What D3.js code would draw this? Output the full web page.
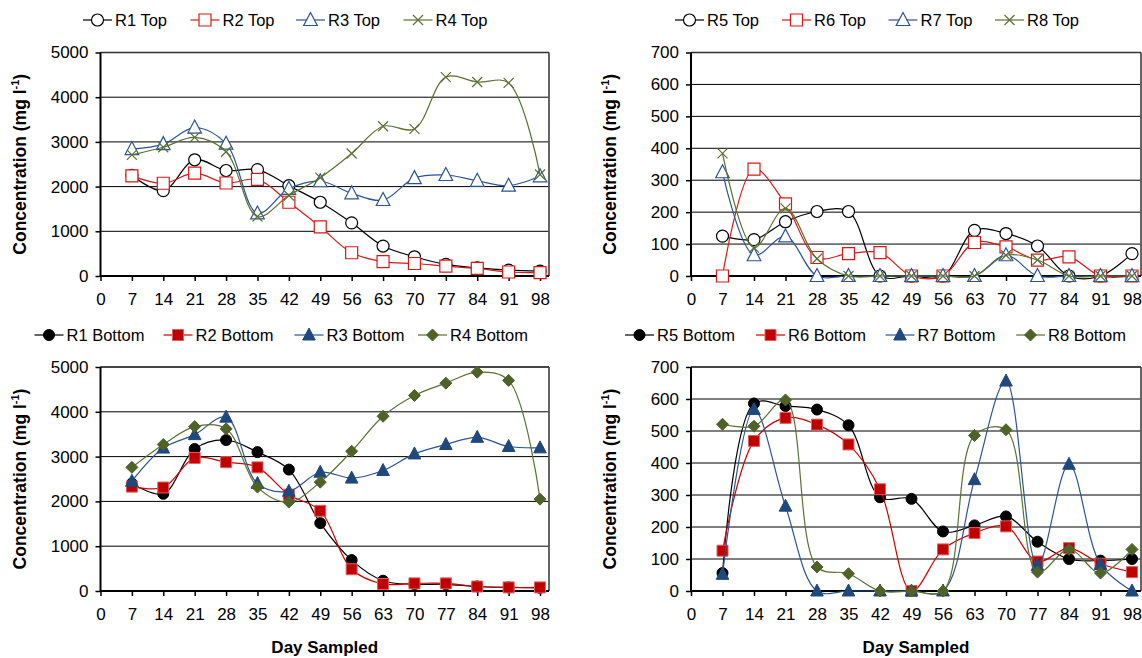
<!DOCTYPE html>
<html>
<head>
<meta charset="utf-8">
<script src="https://d3js.org/d3.v7.min.js"></script>
<style>
  body { margin: 0; background: #fff; }
  text { font-family: Arial, "Liberation Sans", sans-serif; }
</style>
</head>
<body>
<svg id="chart" width="1142" height="658"></svg>
<script>
// sampling days (category values) and x tick labels
var days = [7, 14, 21, 28, 35, 42, 49, 56, 63, 70, 77, 84, 91, 98];
var xTicks = [0, 7, 14, 21, 28, 35, 42, 49, 56, 63, 70, 77, 84, 91, 98];
var yTicksBig = [0, 1000, 2000, 3000, 4000, 5000];
var yTicksSmall = [0, 100, 200, 300, 400, 500, 600, 700];

// top samples
var r1Top = [2250, 1910, 2600, 2360, 2380, 2020, 1650, 1190, 670, 430, 260, 180, 130, 110];
var r2Top = [2240, 2075, 2300, 2080, 2160, 1650, 1100, 520, 320, 280, 220, 170, 90, 75];
var r3Top = [2840, 2950, 3320, 2960, 1400, 1950, 2120, 1850, 1700, 2190, 2260, 2130, 2020, 2230];
var r4Top = [2710, 2880, 3100, 2780, 1330, 1800, 2200, 2740, 3350, 3290, 4450, 4340, 4320, 2270];
var r5Top = [125, 114, 170, 202, 202, 0, 0, 0, 143, 133, 94, 0, 0, 70];
var r6Top = [0, 335, 226, 58, 70, 73, 0, 0, 105, 91, 50, 60, 0, 0];
var r7Top = [325, 65, 124, 0, 0, 0, 0, 0, 0, 65, 0, 0, 0, 0];
var r8Top = [384, 89, 212, 54, 0, 0, 0, 0, 0, 65, 50, 0, 0, 0];

// bottom samples
var r1Bot = [2400, 2170, 3170, 3370, 3100, 2710, 1515, 690, 230, 150, 150, 100, 80, 70];
var r2Bot = [2330, 2310, 2970, 2875, 2760, 2150, 1790, 485, 157, 170, 170, 100, 80, 80];
var r3Bot = [2450, 3190, 3490, 3880, 2400, 2225, 2650, 2520, 2690, 3060, 3270, 3430, 3225, 3195];
var r4Bot = [2760, 3270, 3670, 3620, 2320, 1985, 2430, 3120, 3900, 4365, 4640, 4885, 4700, 2050];
var r5Bot = [56, 586, 578, 567, 518, 293, 288, 186, 205, 233, 154, 100, 95, 100];
var r6Bot = [126, 469, 541, 520, 458, 318, 0, 130, 181, 202, 92, 134, 85, 59];
var r7Bot = [52, 567, 265, 0, 0, 0, 0, 0, 348, 656, 80, 396, 83, 0];
var r8Bot = [521, 515, 597, 75, 54, 0, 0, 0, 486, 504, 59, 130, 56, 130];

var BLACK = "#000000", RED = "#d81818", BLUE = "#2a5592", OLIVE = "#5b7032";

// marker styles
var styles = {
  openCircle:   {shape: "circle",   color: BLACK, fill: "#fff"},
  openSquare:   {shape: "square",   color: RED,   fill: "#fff"},
  openTriangle: {shape: "triangle", color: BLUE,  fill: "#fff"},
  cross:        {shape: "x",        color: OLIVE, fill: "none"},
  dot:          {shape: "circle",   color: BLACK, fill: BLACK},
  block:        {shape: "square",   color: "#e06060", fill: "#c00000", line: "#d00000"},
  tri:          {shape: "triangle", color: "#1f497d", fill: "#1f497d", line: BLUE},
  diamond:      {shape: "diamond",  color: "#4f6228", fill: "#4f6228", line: OLIVE}
};

var panels = [
  {left: 100.5, right: 549, top: 52.5, bottom: 276, max: 5000, ticks: yTicksBig, legendY: 20,
   legendX: [83, 190.5, 296, 403.5], xTitle: false, yTitleX: 20,
   series: [["R1 Top", r1Top, "openCircle"], ["R2 Top", r2Top, "openSquare"],
            ["R3 Top", r3Top, "openTriangle"], ["R4 Top", r4Top, "cross"]]},
  {left: 691, right: 1141, top: 52.5, bottom: 276, max: 700, ticks: yTicksSmall, legendY: 20,
   legendX: [675, 782, 888.5, 995], xTitle: false, yTitleX: 610,
   series: [["R5 Top", r5Top, "openCircle"], ["R6 Top", r6Top, "openSquare"],
            ["R7 Top", r7Top, "openTriangle"], ["R8 Top", r8Top, "cross"]]},
  {left: 100.5, right: 549, top: 367, bottom: 591, max: 5000, ticks: yTicksBig, legendY: 335,
   legendX: [34.5, 163.5, 294.5, 418], xTitle: true, yTitleX: 20,
   series: [["R1 Bottom", r1Bot, "dot"], ["R2 Bottom", r2Bot, "block"],
            ["R3 Bottom", r3Bot, "tri"], ["R4 Bottom", r4Bot, "diamond"]]},
  {left: 691, right: 1141, top: 367, bottom: 591, max: 700, ticks: yTicksSmall, legendY: 335,
   legendX: [625, 756, 885.5, 1016], xTitle: true, yTitleX: 610,
   series: [["R5 Bottom", r5Bot, "dot"], ["R6 Bottom", r6Bot, "block"],
            ["R7 Bottom", r7Bot, "tri"], ["R8 Bottom", r8Bot, "diamond"]]}
];

function markerPath(shape, filled) {
  var s = filled ? 5.5 : 6;
  if (shape === "circle") return d3.symbol(d3.symbolCircle, Math.PI * s * s)();
  if (shape === "square") return "M" + (-s) + "," + (-s) + "H" + s + "V" + s + "H" + (-s) + "Z";
  if (shape === "triangle") return "M0," + (-s - 1.5) + "L" + (s + 0.8) + "," + (s - 0.5) + "L" + (-s - 0.8) + "," + (s - 0.5) + "Z";
  if (shape === "diamond") return "M0," + (-s - 0.5) + "L" + (s + 0.5) + ",0L0," + (s + 0.5) + "L" + (-s - 0.5) + ",0Z";
  var t = 5;
  return "M" + (-t) + "," + (-t) + "L" + t + "," + t + "M" + (-t) + "," + t + "L" + t + "," + (-t);
}

function drawMarker(g, st, x, y) {
  var filled = st.fill !== "#fff" && st.fill !== "none";
  g.append("path")
    .attr("d", markerPath(st.shape, filled))
    .attr("transform", "translate(" + x + "," + y + ")")
    .attr("fill", st.fill)
    .attr("stroke", st.color)
    .attr("stroke-width", filled ? 1 : 1.2);
}

var svg = d3.select("#chart");

panels.forEach(function(p) {
  var x = d3.scaleLinear().domain([0, 100]).range([p.left, p.right]);
  var y = d3.scaleLinear().domain([0, p.max]).range([p.bottom, p.top]);
  var g = svg.append("g");

  // gridlines
  g.selectAll(".grid").data(p.ticks.slice(1)).enter().append("line")
    .attr("x1", p.left).attr("x2", p.right)
    .attr("y1", function(d) { return y(d); }).attr("y2", function(d) { return y(d); })
    .attr("stroke", "#000").attr("stroke-width", 1);

  // plot border (top + right)
  g.append("line").attr("x1", p.right).attr("x2", p.right)
    .attr("y1", p.top).attr("y2", p.bottom)
    .attr("stroke", "#555").attr("stroke-width", 1.8);
  g.append("line").attr("x1", p.left).attr("x2", p.right)
    .attr("y1", p.top).attr("y2", p.top)
    .attr("stroke", "#333").attr("stroke-width", 1.5);

  // y axis
  var yAxis = d3.axisLeft(y).tickValues(p.ticks).tickFormat(d3.format("d")).tickSize(5).tickPadding(7);
  var ya = g.append("g").attr("transform", "translate(" + p.left + ",0)").call(yAxis);
  ya.select(".domain").attr("stroke-width", 2).attr("d", "M0," + p.top + "V" + p.bottom);
  ya.selectAll(".tick line").attr("stroke-width", 1.5);
  ya.selectAll("text").attr("font-size", 17).attr("font-family", "Arial, 'Liberation Sans', sans-serif").attr("fill", "#000");

  // x axis
  var xAxis = d3.axisBottom(x).tickValues(xTicks).tickFormat(d3.format("d")).tickSize(5).tickPadding(12);
  var xa = g.append("g").attr("transform", "translate(0," + p.bottom + ")").call(xAxis);
  xa.select(".domain").attr("stroke-width", 2).attr("d", "M" + p.left + ",0H" + p.right);
  xa.selectAll(".tick line").attr("stroke-width", 1.5);
  xa.selectAll("text").attr("font-size", 17).attr("font-family", "Arial, 'Liberation Sans', sans-serif").attr("fill", "#000");

  // series
  var line = d3.line()
    .x(function(d, i) { return x(days[i]); })
    .y(function(d) { return y(d); })
    .curve(d3.curveCatmullRom.alpha(0.5));

  p.series.forEach(function(s) {
    var st = styles[s[2]];
    g.append("path").attr("d", line(s[1]))
      .attr("fill", "none").attr("stroke", st.line || st.color).attr("stroke-width", 1.2);
    s[1].forEach(function(v, i) { drawMarker(g, st, x(days[i]), y(v)); });
  });

  // legend
  p.series.forEach(function(s, i) {
    var st = styles[s[2]];
    var lx = p.legendX[i];
    g.append("line").attr("x1", lx).attr("x2", lx + 29)
      .attr("y1", p.legendY).attr("y2", p.legendY)
      .attr("stroke", st.line || st.color).attr("stroke-width", 1.2);
    drawMarker(g, st, lx + 14.5, p.legendY);
    g.append("text").attr("x", lx + 32).attr("y", p.legendY + 6)
      .attr("font-size", 16.5).text(s[0]);
  });

  // y title
  var cy = (p.top + p.bottom) / 2;
  var yt = g.append("text")
    .attr("transform", "translate(" + (p.yTitleX + 6) + "," + cy + ") rotate(-90)")
    .attr("text-anchor", "middle").attr("font-size", 17.5).attr("font-weight", "bold");
  yt.append("tspan").text("Concentration (mg l");
  yt.append("tspan").attr("font-size", 11).attr("dy", -7).text("-1");
  yt.append("tspan").attr("dy", 7).text(")");

  if (p.xTitle) {
    g.append("text").attr("x", (p.left + p.right) / 2).attr("y", 653)
      .attr("text-anchor", "middle").attr("font-size", 17).attr("font-weight", "bold")
      .text("Day Sampled");
  }
});
</script>
</body>
</html>
